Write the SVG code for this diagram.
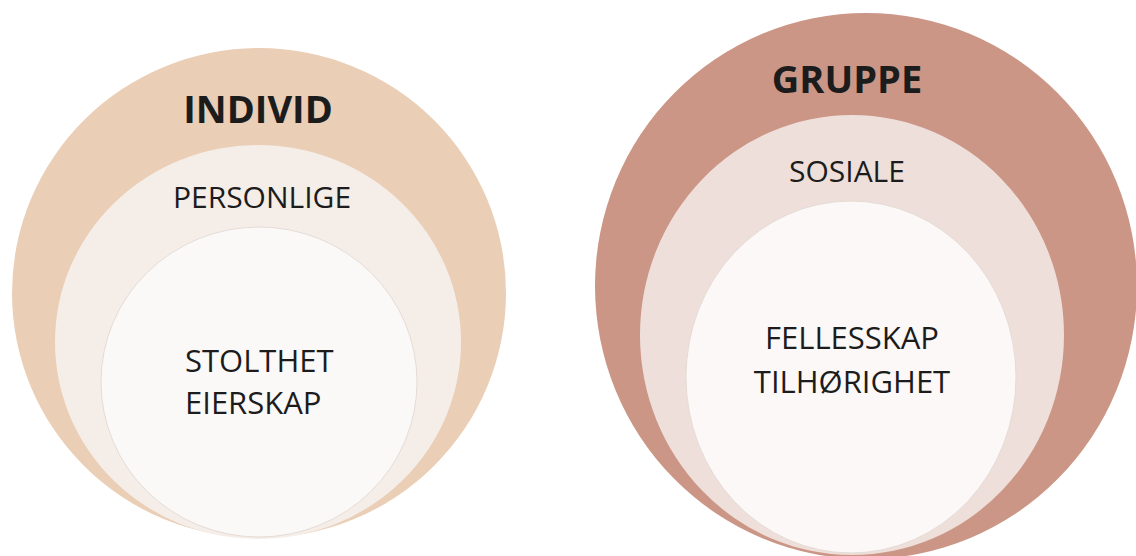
<svg xmlns="http://www.w3.org/2000/svg" width="1136" height="556" viewBox="0 0 1136 556">
<style>
text{font-family:"Open Sans","Noto Sans","Liberation Sans",sans-serif;fill:#1c1c1c}
.h{font-weight:700;font-size:38px;text-anchor:middle}
.m{font-size:30px;text-anchor:middle}
.c{font-size:31px}
.inner{stroke:#e6dcd6;stroke-width:1}
</style>
<rect width="1136" height="556" fill="#ffffff"/>
<g id="individ">
<ellipse cx="259" cy="293" rx="247" ry="245" fill="#EACEB6"/>
<ellipse cx="258" cy="342" rx="203" ry="197" fill="#F5EDE8"/>
<ellipse cx="259" cy="382" rx="158" ry="155" fill="#FBF9F8" class="inner"/>
<text class="h" x="258" y="123">INDIVID</text>
<text class="m" x="262" y="208">PERSONLIGE</text>
<text class="c" x="185" y="372">STOLTHET</text>
<text class="c" x="185" y="414">EIERSKAP</text>
</g>
<g id="gruppe">
<ellipse cx="866" cy="286" rx="271" ry="273" fill="#CB9686"/>
<ellipse cx="852" cy="335" rx="212" ry="220" fill="#EEDFDA"/>
<ellipse cx="851" cy="377" rx="165" ry="176" fill="#FBF8F7" class="inner"/>
<text class="h" x="847" y="93">GRUPPE</text>
<text class="m" x="847" y="182">SOSIALE</text>
<text class="m" x="852" y="349" style="font-size:31px">FELLESSKAP</text>
<text class="m" x="852" y="393" style="font-size:31px">TILHØRIGHET</text>
</g>
<g id="connectors"/>
</svg>
